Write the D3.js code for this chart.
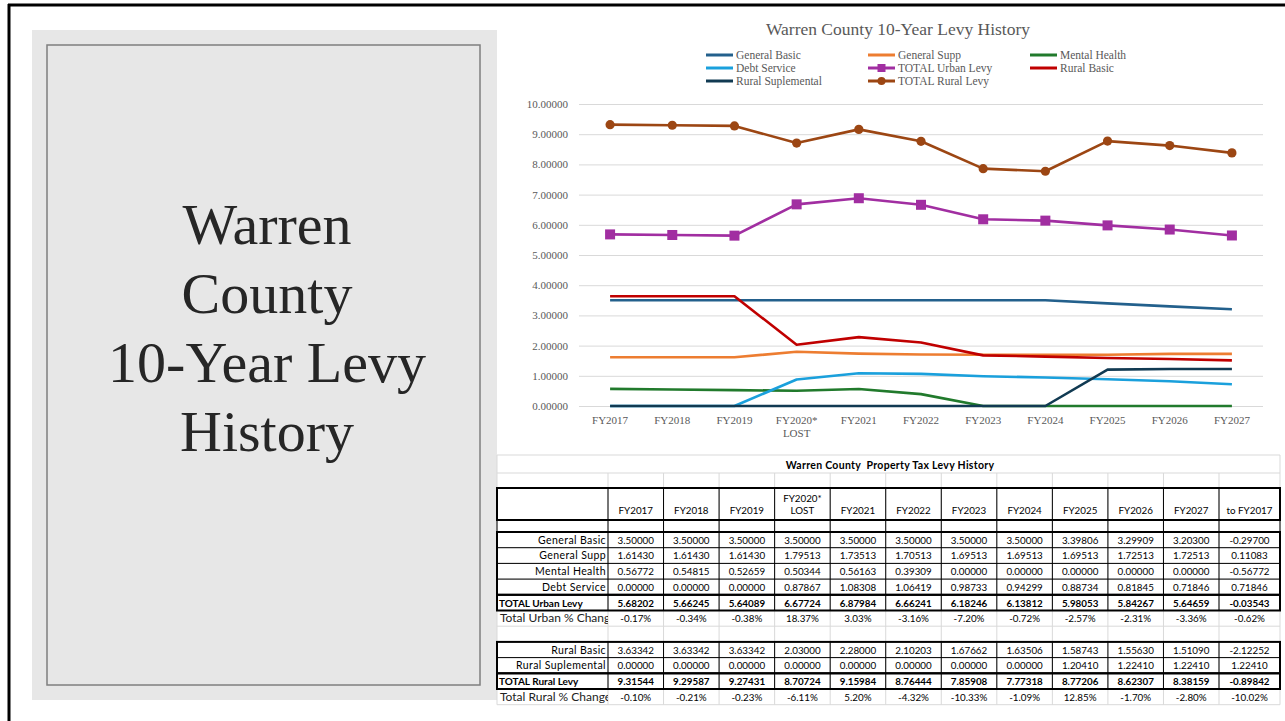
<!DOCTYPE html>
<html>
<head>
<meta charset="utf-8">
<script src="https://cdn.jsdelivr.net/npm/d3@7/dist/d3.min.js"></script>
<style>
  body { margin: 0; background: #fff; }
  .serif { font-family: "Liberation Serif", "DejaVu Serif", serif; }
  .sans { font-family: Lato, "Open Sans", sans-serif; }
</style>
</head>
<body>
<svg id="slide" width="1285" height="721"></svg>
<script>
// chart data
var years = ["FY2017", "FY2018", "FY2019", "FY2020*\nLOST", "FY2021", "FY2022",
             "FY2023", "FY2024", "FY2025", "FY2026", "FY2027"];

var generalBasic = [3.50000, 3.50000, 3.50000, 3.50000, 3.50000, 3.50000, 3.50000, 3.50000, 3.39806, 3.29909, 3.20300];
var generalSupp  = [1.61430, 1.61430, 1.61430, 1.79513, 1.73513, 1.70513, 1.69513, 1.69513, 1.69513, 1.72513, 1.72513];
var mentalHealth = [0.56772, 0.54815, 0.52659, 0.50344, 0.56163, 0.39309, 0.00000, 0.00000, 0.00000, 0.00000, 0.00000];
var debtService  = [0.00000, 0.00000, 0.00000, 0.87867, 1.08308, 1.06419, 0.98733, 0.94299, 0.88734, 0.81845, 0.71846];
var totalUrban   = [5.68202, 5.66245, 5.64089, 6.67724, 6.87984, 6.66241, 6.18246, 6.13812, 5.98053, 5.84267, 5.64659];
var ruralBasic   = [3.63342, 3.63342, 3.63342, 2.03000, 2.28000, 2.10203, 1.67662, 1.63506, 1.58743, 1.55630, 1.51090];
var ruralSupl    = [0.00000, 0.00000, 0.00000, 0.00000, 0.00000, 0.00000, 0.00000, 0.00000, 1.20410, 1.22410, 1.22410];
var totalRural   = [9.31544, 9.29587, 9.27431, 8.70724, 9.15984, 8.76444, 7.85908, 7.77318, 8.77206, 8.62307, 8.38159];

// percent change rows (in %)
var urbanPct = [-0.17, -0.34, -0.38, 18.37, 3.03, -3.16, -7.20, -0.72, -2.57, -2.31, -3.36];
var ruralPct = [-0.10, -0.21, -0.23, -6.11, 5.20, -4.32, -10.33, -1.09, 12.85, -1.70, -2.80];

// "to FY2017" column
var changeTo2017 = [-0.29700, 0.11083, -0.56772, 0.71846, -0.03543, -0.62, null, -2.12252, 1.22410, -0.89842, -10.02];

var seriesNames  = ["General Basic", "General Supp", "Mental Health", "Debt Service",
                    "TOTAL Urban Levy", "Rural Basic", "Rural Suplemental", "TOTAL Rural Levy"];
var seriesValues = [generalBasic, generalSupp, mentalHealth, debtService,
                    totalUrban, ruralBasic, ruralSupl, totalRural];
var seriesColors = ["#23608c", "#ed7d31", "#217a2c", "#1aa0dc",
                    "#a12ea1", "#c00000", "#113a52", "#9c4613"];
var seriesMarker = ["", "", "", "", "square", "", "", "circle"];

var yTicks = [0, 1, 2, 3, 4, 5, 6, 7, 8, 9, 10];

var svg = d3.select("#slide");
var loc = d3.formatLocale({decimal: ".", thousands: ",", grouping: [3], currency: ["$", ""], minus: "-"});
var fmt5 = loc.format(".5f");
var fmtPct = function(v) { return loc.format(".2f")(v) + "%"; };

// ---- slide frame ----
svg.append("line").attr("x1", 8).attr("x2", 1285).attr("y1", 5).attr("y2", 5)
  .attr("stroke", "#000").attr("stroke-width", 3);
svg.append("line").attr("x1", 9).attr("x2", 9).attr("y1", 4).attr("y2", 721)
  .attr("stroke", "#000").attr("stroke-width", 3);

// ---- left title panel ----
svg.append("rect").attr("x", 32).attr("y", 30).attr("width", 465).attr("height", 670)
  .attr("fill", "#e7e7e7");
svg.append("rect").attr("x", 47).attr("y", 45).attr("width", 433).attr("height", 640)
  .attr("fill", "none").attr("stroke", "#7f7f7f").attr("stroke-width", 1.5);

var titleLines = ["Warren", "County", "10-Year Levy", "History"];
svg.append("g").selectAll("text").data(titleLines).join("text")
  .attr("class", "serif")
  .attr("x", 267).attr("y", function(d, i) { return 244 + i * 69; })
  .attr("text-anchor", "middle")
  .attr("font-size", 58).attr("fill", "#262626")
  .text(function(d) { return d; });

// ---- line chart ----
var plot = {left: 579, right: 1263, top: 104, bottom: 406};

var x = d3.scaleBand().domain(years).range([plot.left, plot.right]);
var y = d3.scaleLinear().domain([0, 10]).range([plot.bottom, plot.top]);
var cx = function(i) { return x(years[i]) + x.bandwidth() / 2; };

svg.append("text").attr("class", "serif")
  .attr("x", 898).attr("y", 35).attr("text-anchor", "middle")
  .attr("font-size", 17.5).attr("fill", "#595959")
  .text("Warren County 10-Year Levy History");

var yAxis = svg.append("g")
  .attr("transform", "translate(" + plot.left + ",0)")
  .call(d3.axisLeft(y).tickValues(yTicks).tickFormat(fmt5)
    .tickSize(-(plot.right - plot.left)).tickPadding(11));
yAxis.select(".domain").remove();
yAxis.selectAll(".tick line").attr("stroke", "#d9d9d9");
yAxis.selectAll(".tick text").attr("class", "serif")
  .attr("font-size", 11).attr("fill", "#595959");

var xAxis = svg.append("g")
  .attr("transform", "translate(0," + plot.bottom + ")")
  .call(d3.axisBottom(x).tickSize(0).tickPadding(10).tickFormat(""));
xAxis.select(".domain").remove();
xAxis.selectAll(".tick text").remove();
xAxis.selectAll(".tick").append("text")
  .attr("class", "serif").attr("font-size", 11).attr("fill", "#595959")
  .attr("text-anchor", "middle").attr("y", 18)
  .selectAll("tspan").data(function(d) { return d.split("\n"); }).join("tspan")
  .attr("x", 0).attr("dy", function(d, i) { return i ? 13 : 0; })
  .text(function(d) { return d; });

var line = d3.line().x(function(d, i) { return cx(i); }).y(function(d) { return y(d); });

var seriesG = svg.append("g").selectAll("g").data(seriesValues).join("g");
seriesG.append("path")
  .attr("d", function(d) { return line(d); })
  .attr("fill", "none")
  .attr("stroke", function(d, i) { return seriesColors[i]; })
  .attr("stroke-width", 2.6)
  .attr("stroke-linejoin", "round");

seriesG.each(function(vals, si) {
  var g = d3.select(this);
  if (seriesMarker[si] === "square") {
    g.selectAll("rect").data(vals).join("rect")
      .attr("x", function(d, i) { return cx(i) - 5; })
      .attr("y", function(d) { return y(d) - 5; })
      .attr("width", 10).attr("height", 10)
      .attr("fill", seriesColors[si]);
  } else if (seriesMarker[si] === "circle") {
    g.selectAll("circle").data(vals).join("circle")
      .attr("cx", function(d, i) { return cx(i); })
      .attr("cy", function(d) { return y(d); })
      .attr("r", 4.6)
      .attr("fill", seriesColors[si]);
  }
});

// legend, three columns
var legendCols = [706, 868, 1030];
var legend = svg.append("g").selectAll("g").data(seriesNames).join("g")
  .attr("transform", function(d, i) {
    return "translate(" + legendCols[i % 3] + "," + (55 + Math.floor(i / 3) * 13) + ")";
  });
legend.append("line").attr("x1", 0).attr("x2", 27).attr("y1", 0).attr("y2", 0)
  .attr("stroke", function(d, i) { return seriesColors[i]; }).attr("stroke-width", 3);
legend.filter(function(d, i) { return seriesMarker[i] === "square"; })
  .append("rect").attr("x", 9.5).attr("y", -4).attr("width", 8).attr("height", 8)
  .attr("fill", function(d) { return seriesColors[seriesNames.indexOf(d)]; });
legend.filter(function(d, i) { return seriesMarker[i] === "circle"; })
  .append("circle").attr("cx", 13.5).attr("cy", 0).attr("r", 4)
  .attr("fill", function(d) { return seriesColors[seriesNames.indexOf(d)]; });
legend.append("text").attr("class", "serif")
  .attr("x", 30).attr("y", 4).attr("font-size", 11.5).attr("fill", "#595959")
  .text(function(d) { return d; });

// ---- property tax table ----
var tLeft = 497, tLabelRight = 608, tYearsRight = 1219, tRight = 1280;
var tx = d3.scaleBand().domain(years).range([tLabelRight, tYearsRight]);
var colEdges = [tLeft].concat(years.map(function(d) { return tx(d); }), [tYearsRight, tRight]);

var rowTop = 532, rowH = 15.7;
var tableRows = [
  {label: "General Basic", vals: generalBasic, kind: "item"},
  {label: "General Supp", vals: generalSupp, kind: "item"},
  {label: "Mental Health", vals: mentalHealth, kind: "item"},
  {label: "Debt Service", vals: debtService, kind: "item"},
  {label: "TOTAL Urban Levy", vals: totalUrban, kind: "total"},
  {label: "Total Urban % Change", vals: urbanPct, kind: "pct"},
  {label: "", vals: null, kind: "blank"},
  {label: "Rural Basic", vals: ruralBasic, kind: "item"},
  {label: "Rural Suplemental", vals: ruralSupl, kind: "item"},
  {label: "TOTAL Rural Levy", vals: totalRural, kind: "total"},
  {label: "Total Rural % Change", vals: ruralPct, kind: "pct"}
];
var rowY = function(i) { return rowTop + i * rowH; };
var tableBottom = rowY(tableRows.length);

var tg = svg.append("g");
var grey = "#d9d9d9";

// light sheet gridlines
tg.append("line").attr("x1", tLeft).attr("x2", tRight).attr("y1", 455).attr("y2", 455).attr("stroke", grey);
var hGrid = [473, 488, 520].concat(d3.range(tableRows.length + 1).map(rowY));
tg.selectAll(".hg").data(hGrid).join("line").attr("class", "hg")
  .attr("x1", tLeft).attr("x2", tRight).attr("y1", function(d) { return d; }).attr("y2", function(d) { return d; })
  .attr("stroke", grey);
tg.selectAll(".vg").data(colEdges).join("line").attr("class", "vg")
  .attr("x1", function(d) { return d; }).attr("x2", function(d) { return d; })
  .attr("y1", 473).attr("y2", tableBottom).attr("stroke", grey);
tg.selectAll(".vt").data([tLeft, tRight]).join("line").attr("class", "vt")
  .attr("x1", function(d) { return d; }).attr("x2", function(d) { return d; })
  .attr("y1", 455).attr("y2", 473).attr("stroke", grey);

tg.append("text").attr("class", "sans")
  .attr("x", 890).attr("y", 468.5).attr("text-anchor", "middle")
  .attr("font-size", 10.5).attr("font-weight", "bold").attr("fill", "#000")
  .style("white-space", "pre").attr("letter-spacing", 0.3)
  .text("Warren County  Property Tax Levy History");

// black bordered blocks: [top, bottom] plus inner row lines
var blocks = [
  {top: 488, bottom: 520, inner: []},
  {top: 520, bottom: rowY(0), inner: [], thin: true},
  {top: rowY(0), bottom: rowY(4), inner: [rowY(1), rowY(2), rowY(3)]},
  {top: rowY(4), bottom: rowY(5), inner: []},
  {top: rowY(7), bottom: rowY(9), inner: [rowY(8)]},
  {top: rowY(9), bottom: rowY(10), inner: []}
];
blocks.forEach(function(b) {
  colEdges.slice(1, -1).forEach(function(cxE) {
    tg.append("line").attr("x1", cxE).attr("x2", cxE).attr("y1", b.top).attr("y2", b.bottom)
      .attr("stroke", "#000").attr("stroke-width", 1);
  });
  b.inner.forEach(function(yy) {
    tg.append("line").attr("x1", tLeft).attr("x2", tRight).attr("y1", yy).attr("y2", yy)
      .attr("stroke", "#000").attr("stroke-width", 1);
  });
  tg.append("rect").attr("x", tLeft).attr("y", b.top)
    .attr("width", tRight - tLeft).attr("height", b.bottom - b.top)
    .attr("fill", "none").attr("stroke", "#000").attr("stroke-width", b.thin ? 1 : 2);
});

// header labels
var headers = years.concat(["to FY2017"]);
var colCenter = function(j) { return (colEdges[j + 1] + colEdges[j + 2]) / 2; };
tg.selectAll(".hdr").data(headers).join("text").attr("class", "hdr sans")
  .attr("text-anchor", "middle").attr("font-size", 9.8).attr("fill", "#000")
  .attr("x", function(d, j) { return colCenter(j); })
  .attr("y", function(d) { return d.indexOf("\n") >= 0 ? 502 : 514; })
  .selectAll("tspan").data(function(d) { return d.split("\n"); }).join("tspan")
  .attr("x", function() { return d3.select(this.parentNode).attr("x"); })
  .attr("dy", function(d, i) { return i ? 12 : 0; })
  .text(function(d) { return d; });

svg.append("clipPath").attr("id", "labelClip")
  .append("rect").attr("x", tLeft).attr("y", 440).attr("width", tLabelRight - tLeft).attr("height", 280);

tableRows.forEach(function(r, i) {
  if (r.kind === "blank") return;
  var base = rowY(i) + rowH - 4;
  var bold = r.kind === "total" ? "bold" : "normal";
  var lab = tg.append("text").attr("class", "sans").attr("y", base).attr("fill", "#000")
    .attr("font-weight", bold).text(r.label);
  if (r.kind === "item") {
    lab.attr("x", tLabelRight - 2).attr("text-anchor", "end")
      .attr("font-size", 10.5).attr("letter-spacing", 0.4);
  } else if (r.kind === "total") {
    lab.attr("x", tLeft + 2).attr("font-size", 10);
  } else {
    lab.attr("x", tLeft + 3).attr("font-size", 12).attr("fill", "#222")
      .attr("clip-path", "url(#labelClip)");
  }
  var cells = r.vals.concat([changeTo2017[i]]);
  tg.selectAll(".row" + i).data(cells).join("text").attr("class", "sans row" + i)
    .attr("x", function(d, j) { return colCenter(j); })
    .attr("y", base).attr("text-anchor", "middle")
    .attr("font-size", 9.8).attr("font-weight", bold).attr("fill", "#000")
    .text(function(d) { return r.kind === "pct" ? fmtPct(d) : fmt5(d); });
});
</script>
</body>
</html>
